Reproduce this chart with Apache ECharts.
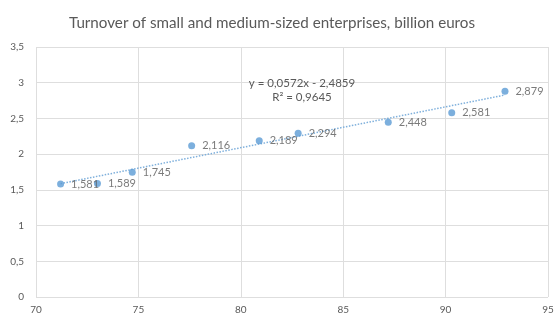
<!DOCTYPE html>
<html><head><meta charset="utf-8">
<script src="https://cdn.jsdelivr.net/npm/echarts@6/dist/echarts.min.js"></script>
<style>html,body{margin:0;padding:0;background:#fff}#c{width:558px;height:317px}</style>
</head><body><div id="c"></div>
<script>
var titleText = 'Turnover of small and medium-sized enterprises, billion euros';
var xValues = [71.2, 73.0, 74.7, 77.6, 80.9, 82.8, 87.2, 90.3, 92.9];
var yValues = [1.581, 1.589, 1.745, 2.116, 2.189, 2.294, 2.448, 2.581, 2.879];
var trendSlope = 0.0572;
var trendIntercept = -2.4859;
var trendR2 = 0.9645;
var xTicks = [70, 75, 80, 85, 90, 95];
var yTicks = [0, 0.5, 1, 1.5, 2, 2.5, 3, 3.5];

function fmt(v, d) {
  var s = d == null ? String(v) : v.toFixed(d);
  return s.replace('.', ',');
}
var pts = xValues.map(function (x, i) { return [x, yValues[i]]; });
var xMin = Math.min.apply(null, xValues), xMax = Math.max.apply(null, xValues);
var trend = [[xMin, trendSlope * xMin + trendIntercept], [xMax, trendSlope * xMax + trendIntercept]];
var FONT = 'Lato';
var chart = echarts.init(document.getElementById('c'));
chart.setOption({
  animation: false,
  title: { text: titleText, left: 64, top: 11,
    textStyle: { fontFamily: FONT, fontSize: 15.2, fontWeight: 'normal', color: '#595959' } },
  grid: { left: 36, right: 10, top: 47, bottom: 20, containLabel: false },
  xAxis: { type: 'value', min: xTicks[0], max: xTicks[xTicks.length - 1], interval: 5,
    axisLine: { show: false }, axisTick: { show: false },
    splitLine: { lineStyle: { color: '#dedede', width: 1 } },
    axisLabel: { fontFamily: FONT, fontSize: 10, color: '#595959', margin: 8, formatter: function (v) { return fmt(v); } } },
  yAxis: { type: 'value', min: yTicks[0], max: yTicks[yTicks.length - 1], interval: 0.5,
    axisLine: { show: false }, axisTick: { show: false },
    splitLine: { lineStyle: { color: '#dedede', width: 1 } },
    axisLabel: { fontFamily: FONT, fontSize: 10, color: '#595959', margin: 12, formatter: function (v) { return fmt(v); } } },
  series: [
    { type: 'line', data: trend, symbol: 'none', silent: true,
      lineStyle: { color: '#7fb0dc', width: 1.5, type: [1.5, 1.5] }, z: 1 },
    { type: 'scatter', data: pts, symbolSize: 7, z: 3,
      itemStyle: { color: '#5b9bd5' },
      label: { show: true, position: 'right', distance: 7, fontFamily: FONT, fontSize: 11, color: '#595959',
        formatter: function (p) { return fmt(p.value[1], 3); } } }
  ],
  graphic: [
    { type: 'text', x: 302, y: 77, silent: true, z: 10,
      style: { text: 'y = ' + fmt(trendSlope) + 'x - ' + fmt(-trendIntercept) + '\nR² = ' + fmt(trendR2),
        align: 'center', verticalAlign: 'top', fontFamily: FONT, fontSize: 11.5, lineHeight: 13.5, fill: '#595959' } }
  ]
});
</script></body></html>
